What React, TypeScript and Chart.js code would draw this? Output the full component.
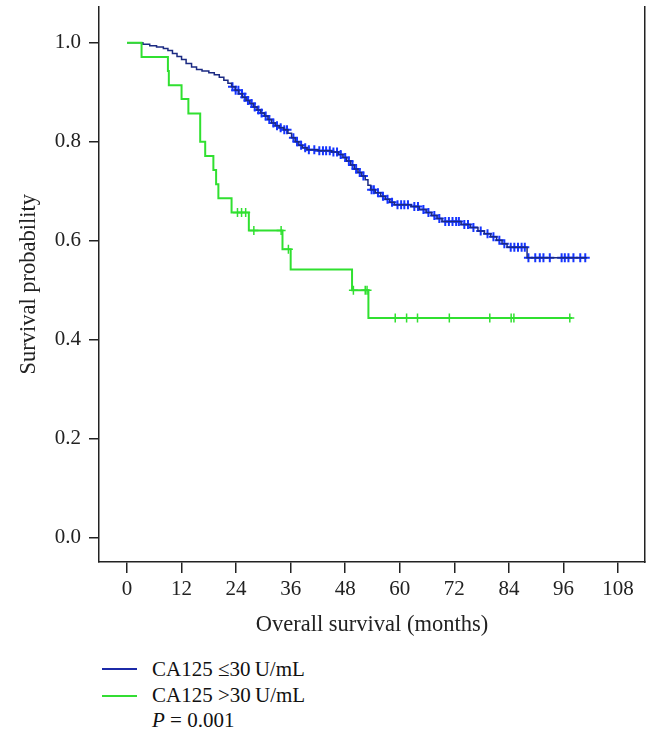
import React, { useEffect, useRef } from "react";
import { Chart, registerables } from "chart.js";

Chart.register(...registerables);

// ---- Data ----
const xTicks = [0, 12, 24, 36, 48, 60, 72, 84, 96, 108];
const yTicks = [0, 0.2, 0.4, 0.6, 0.8, 1.0];

// CA125 <= 30 U/mL : event times (months) and survival after each event
const lowTimes = [0, 3.5, 5.0, 6.5, 8.0, 9.0, 10.0, 11.0, 12.0, 13.0, 14.2, 15.3, 16.5, 18.0, 19.2, 20.3, 21.3, 22.2, 23.0, 23.8, 24.6, 25.4, 26.2, 27.0, 27.8, 28.6, 29.4, 30.2, 31.0, 31.8, 32.6, 33.5, 34.5, 35.4, 36.2, 37.0, 37.8, 38.6, 39.6, 42.0, 45.0, 46.5, 47.5, 48.3, 49.2, 50.0, 50.8, 51.6, 52.4, 53.0, 53.6, 54.6, 55.8, 56.8, 57.8, 58.8, 62.5, 64.3, 65.8, 67.0, 68.2, 69.3, 73.5, 75.5, 77.2, 78.6, 80.0, 81.3, 82.5, 83.6, 88.0, 101.2];
const lowSurv = [1.0, 0.997, 0.994, 0.991, 0.988, 0.984, 0.978, 0.972, 0.966, 0.958, 0.951, 0.946, 0.943, 0.939, 0.935, 0.93, 0.924, 0.918, 0.911, 0.904, 0.897, 0.89, 0.883, 0.877, 0.87, 0.864, 0.858, 0.852, 0.845, 0.838, 0.832, 0.828, 0.824, 0.817, 0.808, 0.8, 0.793, 0.788, 0.784, 0.782, 0.779, 0.774, 0.768, 0.761, 0.753, 0.745, 0.738, 0.731, 0.723, 0.712, 0.703, 0.697, 0.69, 0.684, 0.678, 0.673, 0.669, 0.663, 0.657, 0.651, 0.645, 0.639, 0.633, 0.627, 0.62, 0.614, 0.608, 0.601, 0.594, 0.587, 0.566, 0.566];
const lowCensor = [23.2, 23.9, 24.5, 25.3, 25.9, 26.6, 27.4, 28.1, 28.9, 29.6, 30.5, 31.3, 32.2, 33.0, 33.8, 34.6, 35.2, 36.6, 37.4, 38.3, 39.2, 40.0, 41.2, 42.3, 43.1, 43.8, 44.6, 45.4, 46.2, 47.0, 48.0, 48.8, 49.6, 50.4, 51.2, 52.0, 53.8, 54.3, 55.2, 56.3, 57.3, 58.3, 59.5, 60.3, 61.0, 61.8, 63.2, 64.0, 65.2, 66.3, 67.6, 68.7, 70.0, 70.8, 71.6, 72.4, 73.0, 74.2, 75.0, 76.2, 77.8, 79.3, 80.6, 81.9, 83.0, 84.4, 85.2, 86.0, 86.8, 87.5, 88.3, 89.8, 90.8, 91.6, 93.0, 95.6, 96.3, 97.1, 98.2, 99.7, 100.8];

// CA125 > 30 U/mL
const highTimes = [0, 3.2, 9.0, 9.2, 12.0, 13.5, 16.1, 17.2, 19.0, 19.6, 20.1, 23.0, 26.8, 34.2, 36.0, 49.5, 53.1, 97.9];
const highSurv = [1.0, 0.971, 0.943, 0.914, 0.886, 0.857, 0.8, 0.771, 0.743, 0.714, 0.686, 0.657, 0.621, 0.583, 0.542, 0.5, 0.444, 0.444];
const highCensor = [24.3, 25.2, 26.1, 27.9, 33.9, 35.5, 49.8, 52.4, 52.8, 59.0, 61.5, 63.9, 70.9, 79.8, 84.5, 85.1, 97.4];

const seriesLabels = ["CA125 \u226430\u2009U/mL", "CA125 >30\u2009U/mL"];
const pValueText = "= 0.001";

// ---- helpers ----
function survAt(times: number[], surv: number[], t: number): number {
  let s = surv[0];
  for (let i = 0; i < times.length; i++) {
    if (times[i] <= t) s = surv[i];
  }
  return s;
}

const FONT_FAMILY = '"Liberation Serif", "Times New Roman", serif';
const LOW_LINE = "#1b2a82";
const LOW_MARK = "#1434ff";
const HIGH_LINE = "#30e030";
const AXIS = "#222222";
const Y_MIN = -0.0485;
const Y_MAX = 1.073;

export default function App() {
  const canvasRef = useRef<HTMLCanvasElement | null>(null);

  useEffect(() => {
    const canvas = canvasRef.current;
    if (!canvas) return;
    const font = { family: FONT_FAMILY, size: 21 };
    const titleFont = { family: FONT_FAMILY, size: 22.5 };

    const chart = new Chart(canvas, {
      type: "line",
      data: {
        datasets: [
          {
            label: seriesLabels[1],
            data: highTimes.map((t, i) => ({ x: t, y: highSurv[i] })),
            borderColor: HIGH_LINE,
            borderWidth: 2,
            stepped: "before",
            pointRadius: 0,
            fill: false,
          },
          {
            label: seriesLabels[1] + " censored",
            data: highCensor.map((t) => ({ x: t, y: survAt(highTimes, highSurv, t) })),
            showLine: false,
            pointStyle: "cross",
            pointRadius: 4.5,
            pointBorderWidth: 1.5,
            pointBorderColor: HIGH_LINE,
            pointBackgroundColor: HIGH_LINE,
          },
          {
            label: seriesLabels[0],
            data: lowTimes.map((t, i) => ({ x: t, y: lowSurv[i] })),
            borderColor: LOW_LINE,
            borderWidth: 1.5,
            stepped: "before",
            pointRadius: 0,
            fill: false,
          },
          {
            label: seriesLabels[0] + " censored",
            data: lowCensor.map((t) => ({ x: t, y: survAt(lowTimes, lowSurv, t) })),
            showLine: false,
            pointStyle: "cross",
            pointRadius: 4.5,
            pointBorderWidth: 2,
            pointBorderColor: LOW_MARK,
            pointBackgroundColor: LOW_MARK,
          },
        ],
      },
      options: {
        animation: false,
        responsive: false,
        maintainAspectRatio: false,
        devicePixelRatio: 1,
        layout: { padding: 0 },
        plugins: {
          legend: { display: false },
          tooltip: { enabled: false },
        },
        scales: {
          x: {
            type: "linear",
            min: -6.16,
            max: 113.94,
            afterBuildTicks: (s: any) => {
              s.ticks = xTicks.map((v) => ({ value: v }));
            },
            afterFit: (s: any) => {
              s.height = 88;
              s.paddingLeft = 0;
              s.paddingRight = 0;
            },
            grid: {
              display: true,
              drawOnChartArea: false,
              drawTicks: true,
              tickLength: 11,
              color: AXIS,
              lineWidth: 1.5,
            },
            border: { display: true, color: AXIS, width: 1.5 },
            ticks: {
              font,
              color: AXIS,
              padding: 4,
              maxRotation: 0,
              autoSkip: false,
              callback: (v: any) => String(v),
            },
            title: {
              display: true,
              text: "Overall survival (months)",
              font: titleFont,
              color: AXIS,
              padding: { top: 0, bottom: 11 },
            },
          },
          y: {
            type: "linear",
            position: "left",
            min: Y_MIN,
            max: Y_MAX,
            afterBuildTicks: (s: any) => {
              s.ticks = yTicks.map((v) => ({ value: v }));
            },
            afterFit: (s: any) => {
              s.width = 99;
              s.paddingTop = 0;
              s.paddingBottom = 0;
            },
            grid: {
              display: true,
              drawOnChartArea: false,
              drawTicks: true,
              tickLength: 10,
              color: AXIS,
              lineWidth: 1.5,
            },
            border: { display: true, color: AXIS, width: 1.5 },
            ticks: {
              font,
              color: AXIS,
              padding: 8,
              autoSkip: false,
              callback: (v: any) => Number(v).toFixed(1),
            },
            title: {
              display: true,
              text: "Survival probability",
              font: titleFont,
              color: AXIS,
              padding: { top: 16, bottom: 0 },
            },
          },
          y2: {
            type: "linear",
            position: "right",
            min: Y_MIN,
            max: Y_MAX,
            afterFit: (s: any) => {
              s.width = 15;
              s.paddingTop = 0;
              s.paddingBottom = 0;
            },
            grid: { display: false },
            ticks: { display: false },
            border: { display: true, color: AXIS, width: 1.5 },
          },
        },
      },
    } as any);

    return () => {
      chart.destroy();
    };
  }, []);

  const textStyle: React.CSSProperties = {
    position: "absolute",
    left: 152,
    fontFamily: FONT_FAMILY,
    fontSize: 21,
    lineHeight: "21px",
    color: "#111",
    whiteSpace: "nowrap",
  };

  return (
    <div style={{ position: "absolute", left: 0, top: 0, width: 660, height: 741, background: "#fff" }}>
      <canvas ref={canvasRef} width={660} height={650} style={{ position: "absolute", left: 0, top: 0, width: 660, height: 650 }} />
      <div style={{ position: "absolute", left: 102, top: 668, width: 35, height: 2, background: "#1c2aa8" }} />
      <div style={{ ...textStyle, top: 659 }}>{seriesLabels[0]}</div>
      <div style={{ position: "absolute", left: 102, top: 695, width: 35, height: 2, background: "#33dd33" }} />
      <div style={{ ...textStyle, top: 685 }}>{seriesLabels[1]}</div>
      <div style={{ ...textStyle, top: 710 }}>
        <i>P</i> {pValueText}
      </div>
    </div>
  );
}
